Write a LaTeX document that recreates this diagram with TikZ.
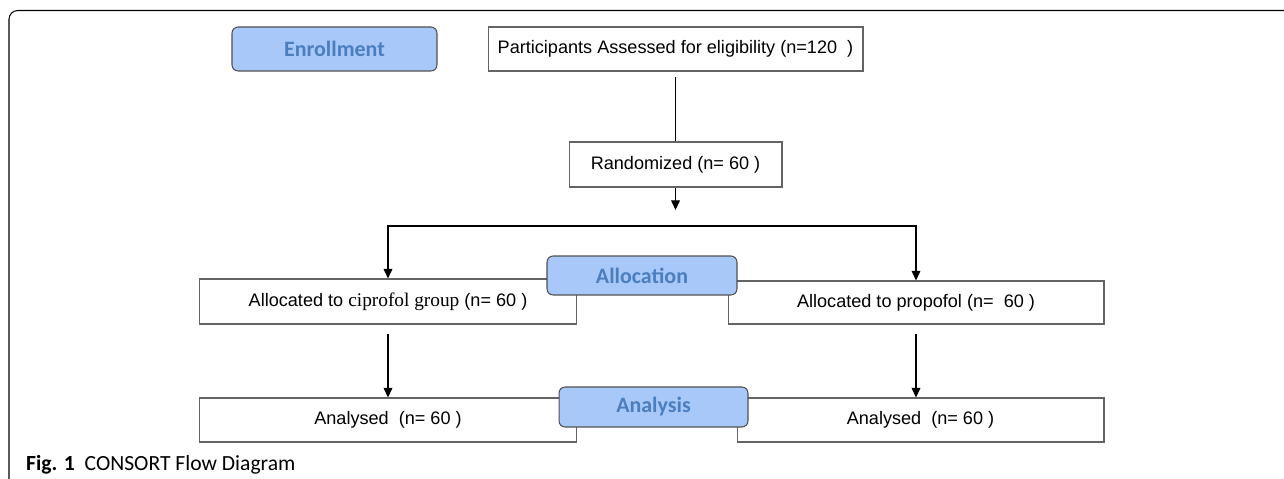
\documentclass[tikz,border=0pt]{standalone}
\usepackage{fontspec}
\setmainfont{Liberation Sans}
\newfontfamily\timesfont{Liberation Serif}
\newfontfamily\phasefont{Carlito}
\usetikzlibrary{arrows.meta}
\definecolor{phasefill}{RGB}{168,200,250}
\definecolor{phasetext}{RGB}{74,126,190}
\definecolor{boxline}{RGB}{100,100,100}

\begin{document}
\begin{tikzpicture}[x=0.02cm,y=-0.02cm,
  flowbox/.style={draw=boxline,line width=0.6pt,fill=white,inner sep=0pt,font=\fontsize{10.3}{12}\selectfont},
  phasebox/.style={draw=boxline!80!black,line width=0.6pt,fill=phasefill,rounded corners=3.5pt,inner sep=0pt,text=phasetext,font=\phasefont\bfseries\fontsize{12.5}{14}\selectfont},
  arr/.style={line width=0.7pt,-{Triangle[width=5pt,length=5.5pt]}}]
\useasboundingbox (0,0) rectangle (1284,479);
\fill[white] (0,0) rectangle (1284,479);
\draw[line width=0.6pt,rounded corners=5pt] (9,479) -- (9,10.5) -- (1290,10.5);

% boxes
\node[flowbox,minimum width=7.5cm,minimum height=0.88cm] (assess) at (675.5,49) {Participants Assessed for eligibility (n=120\ \ )};
\node[flowbox,minimum width=4.26cm,minimum height=0.9cm] (rand) at (675.5,164.5) {Randomized (n= 60 )};
\node[flowbox,minimum width=7.56cm,minimum height=0.9cm] (allocL) at (388,301.5) {Allocated to {\timesfont\fontsize{11}{12}\selectfont ciprofol group} (n= 60 )\hspace{0.5cm}};
\node[flowbox,minimum width=7.52cm,minimum height=0.86cm] (allocR) at (916,302.5) {Allocated to propofol (n=\ \ 60 )\hspace{0.55cm}};
\node[flowbox,minimum width=7.56cm,minimum height=0.88cm] (anaL) at (388,420) {Analysed\ \ (n= 60 )\hspace{0.25cm}};
\node[flowbox,minimum width=7.34cm,minimum height=0.88cm] (anaR) at (920.5,420) {Analysed\ \ (n= 60 )};

% phases
\node[phasebox,minimum width=4.1cm,minimum height=0.88cm] (enroll) at (334.5,49) {Enrollment};
\node[phasebox,minimum width=3.8cm,minimum height=0.78cm] (allocation) at (642,275.5) {Allocation};
\node[phasebox,minimum width=3.78cm,minimum height=0.8cm] (analysis) at (653.5,407) {Analysis};

% connectors
\coordinate (randend) at (675.5,210);
\coordinate (fork) at (675.5,226);
\draw[line width=0.7pt] ([yshift=-0.1cm]assess.south) -- (rand.north);
\draw[arr] (rand.south) -- (randend);
\draw[line width=0.7pt,{Triangle[width=5pt,length=5.5pt]}-{Triangle[width=5pt,length=5.5pt]}] (allocL.north) |- (fork) -| (allocR.north);
\draw[arr] ([yshift=-0.18cm]allocL.south) -- (anaL.north);
\draw[arr] ([yshift=-0.18cm]allocR.south) -- (allocR.south |- anaR.north);

\node[anchor=west,font=\phasefont\fontsize{12.3}{14}\selectfont] (caption) at (20,465) {\textbf{Fig. 1}\ \ CONSORT Flow Diagram};
\end{tikzpicture}
\end{document}
